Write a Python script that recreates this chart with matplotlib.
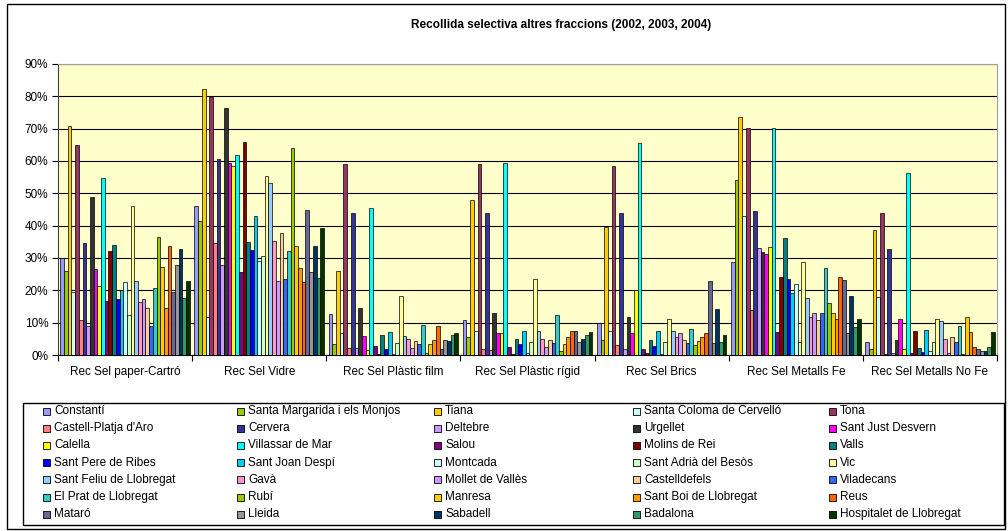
import numpy as np
import matplotlib
matplotlib.use('Agg')
import matplotlib.pyplot as plt
from matplotlib.patches import Rectangle

plt.rcParams['font.family'] = ['Liberation Sans', 'DejaVu Sans']

categories = ['Rec Sel paper-Cartró', 'Rec Sel Vidre', 'Rec Sel Plàstic film', 'Rec Sel Plàstic rígid',
              'Rec Sel Brics', 'Rec Sel Metalls Fe', 'Rec Sel Metalls No Fe']

municipis = ['Constantí', 'Santa Margarida i els Monjos', 'Tiana', 'Santa Coloma de Cervelló', 'Tona',
             "Castell-Platja d'Aro", 'Cervera', 'Deltebre', 'Urgellet', 'Sant Just Desvern',
             'Calella', 'Villassar de Mar', 'Salou', 'Molins de Rei', 'Valls',
             'Sant Pere de Ribes', 'Sant Joan Despí', 'Montcada', 'Sant Adrià del Besòs', 'Vic',
             'Sant Feliu de Llobregat', 'Gavà', 'Mollet de Vallès', 'Castelldefels', 'Viladecans',
             'El Prat de Llobregat', 'Rubí', 'Manresa', 'Sant Boi de Llobregat', 'Reus',
             'Mataró', 'Lleida', 'Sabadell', 'Badalona', 'Hospitalet de Llobregat']

colors = ['#9999FF', '#99CC00', '#FFCC00', '#CCFFFF', '#993366',
          '#FF8080', '#333399', '#CC99FF', '#333333', '#FF00FF',
          '#FFFF00', '#00FFFF', '#800080', '#800000', '#008080',
          '#0000FF', '#00CCFF', '#CCFFFF', '#CCFFCC', '#FFFF99',
          '#99CCFF', '#FF99CC', '#CC99FF', '#FFCC99', '#3366FF',
          '#33CCCC', '#99CC00', '#FFCC00', '#FF9900', '#FF6600',
          '#666699', '#969696', '#003366', '#339966', '#003300']

# percentages per fraction, one value per municipi (same order as list above)
paper = [30.0, 26.0, 70.8, 19.6, 65.0, 10.8, 34.5, 9.0, 48.9, 26.6,
         21.4, 54.6, 16.7, 32.2, 34.0, 17.4, 20.1, 22.5, 12.3, 46.0,
         22.9, 16.3, 17.4, 14.6, 8.9, 20.7, 36.4, 27.2, 14.6, 33.7,
         19.4, 27.9, 32.7, 17.6, 22.9]
vidre = [46.1, 41.5, 82.3, 11.9, 79.8, 34.5, 60.7, 27.8, 76.5, 59.3,
         58.4, 61.8, 25.6, 65.9, 34.8, 32.4, 43.0, 29.1, 30.6, 55.3,
         53.2, 35.2, 22.9, 37.6, 23.5, 32.1, 64.1, 33.7, 26.9, 22.5,
         44.7, 25.6, 33.7, 23.8, 39.2]
plastic_film = [12.6, 3.4, 26.0, 6.7, 59.1, 2.1, 43.9, 2.1, 14.6, 5.8,
                1.6, 45.4, 2.7, 0.3, 6.1, 2.0, 7.1, 0.3, 3.7, 18.4,
                5.9, 5.1, 2.1, 4.4, 3.4, 9.2, 0.7, 3.4, 4.7, 8.9,
                1.8, 4.6, 4.3, 6.1, 6.7]
plastic_rigid = [10.8, 5.5, 48.0, 7.4, 59.1, 1.8, 43.9, 1.6, 12.9, 6.9,
                 6.9, 59.3, 2.5, 0.3, 5.1, 3.3, 7.4, 0.7, 3.9, 23.4,
                 7.4, 5.1, 2.4, 4.7, 3.6, 12.3, 1.3, 3.3, 5.5, 7.4,
                 7.4, 4.0, 5.1, 6.2, 7.1]
brics = [9.8, 4.6, 39.7, 7.4, 58.5, 3.0, 43.9, 1.8, 11.6, 6.9,
         20.1, 65.5, 2.0, 0.6, 4.7, 2.7, 7.4, 0.3, 4.0, 11.2,
         7.4, 5.5, 6.9, 4.6, 3.6, 8.1, 3.0, 4.3, 5.5, 6.7,
         22.8, 3.6, 14.3, 3.9, 6.1]
metalls_fe = [28.7, 54.2, 73.6, 43.0, 70.3, 13.9, 44.6, 33.0, 31.8, 31.3,
              33.3, 70.2, 7.0, 24.1, 36.1, 23.4, 19.1, 22.1, 4.0, 28.7,
              17.6, 11.9, 12.9, 10.8, 12.9, 26.8, 16.0, 12.9, 11.2, 24.1,
              23.2, 6.7, 18.4, 8.6, 11.2]
metalls_nofe = [3.9, 1.8, 38.6, 18.0, 44.0, 0.3, 32.7, 0.5, 4.6, 11.2,
                1.8, 56.3, 0.5, 7.4, 2.1, 0.9, 7.7, 1.3, 4.0, 11.2,
                10.5, 5.1, 0.5, 5.5, 3.9, 8.9, 0.3, 11.9, 7.0, 2.6,
                1.8, 1.3, 1.3, 2.5, 7.1]

data = np.array([paper, vidre, plastic_film, plastic_rigid, brics, metalls_fe, metalls_nofe]).T / 100.

n_cat = len(categories)
n_ser = len(municipis)

W, H = 1008., 531.
fig = plt.figure(figsize=(W/100, H/100), dpi=100)
ax = fig.add_axes([58/W, 1 - 355/H, (997-58)/W, (355-64)/H])
ax.set_facecolor('#FFFFCC')

w = 0.965 / n_ser
x = np.arange(n_cat)
for j in range(n_ser):
  ax.bar(x + (j - (n_ser-1)/2.) * w, data[j], width=w, color=colors[j],
         edgecolor='black', linewidth=0.5, zorder=3)

ax.set_ylim(0, 0.9)
ax.set_xlim(-0.5, n_cat - 0.5)
ax.set_yticks(np.arange(0, 0.91, 0.1))
ax.set_yticklabels(['{0:d}%'.format(int(round(v*100))) for v in np.arange(0, 0.91, 0.1)])
ax.yaxis.grid(True, color='black', linewidth=0.8, zorder=0)
ax.set_axisbelow(True)

# category boundaries as ticks, labels in the middle
ax.set_xticks(np.arange(-0.5, n_cat, 1.0))
ax.set_xticklabels([])
ax.set_xticks(x, minor=True)
ax.set_xticklabels(categories, minor=True)
ax.tick_params(axis='x', which='minor', length=0, pad=8, labelsize=8.5)
ax.tick_params(axis='x', which='major', direction='out', length=4, color='black')
ax.tick_params(axis='y', direction='out', length=4, labelsize=8.5, pad=3)

ax.spines['top'].set_color('#A0A0A0')
ax.spines['right'].set_color('#A0A0A0')
ax.spines['left'].set_color('#404040')
ax.spines['bottom'].set_color('black')

fig.text(561/W, 1 - 25/H, 'Recollida selectiva altres fraccions (2002, 2003, 2004)',
         ha='center', va='center', fontsize=8.5, fontweight='bold')

# legend drawn by hand, equal columns and row-major like Excel
ncol = 5
col_x = [43, 237, 434, 633, 829]
row_y0, row_dy = 411, 17.2
fig.patches.append(Rectangle((23/W, 1 - 525/H), (1004-23)/W, (525-403)/H, transform=fig.transFigure,
                             fill=False, edgecolor='black', linewidth=1.0))
for i in range(n_ser):
  r, c = i // ncol, i % ncol
  yc = row_y0 + r*row_dy
  fig.patches.append(Rectangle((col_x[c]/W, 1 - (yc+3.5)/H), 7/W, 7/H, transform=fig.transFigure,
                               facecolor=colors[i], edgecolor='black', linewidth=0.6))
  fig.text((col_x[c] + 11)/W, 1 - yc/H, municipis[i], ha='left', va='center', fontsize=8.5)

# chart border
fig.patches.append(Rectangle((7/W, 2/H), (1005-7)/W, (527-2)/H, transform=fig.transFigure,
                             fill=False, edgecolor='black', linewidth=1.0))

fig.savefig('out.png', dpi=100)
